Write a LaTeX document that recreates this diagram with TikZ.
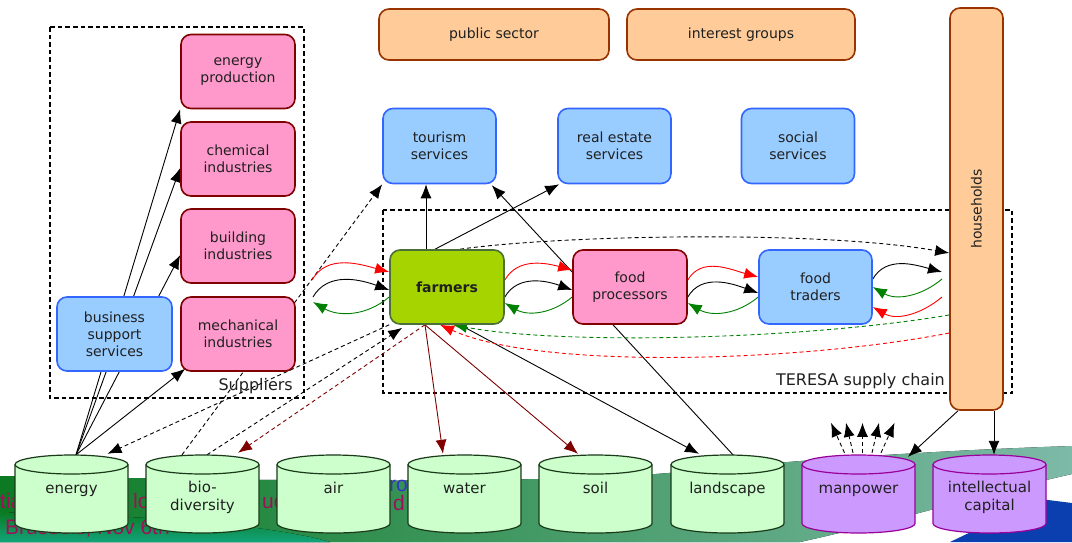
\documentclass[tikz,border=0pt]{standalone}
\usepackage{fontspec}
\setmainfont{DejaVu Sans}
\newfontfamily\slidefont{Liberation Sans}
\usetikzlibrary{arrows.meta,calc}
\pgfdeclarelayer{bg}
\pgfdeclarelayer{wires}
\pgfsetlayers{bg,wires,main}

\definecolor{pinkfill}{HTML}{FF99CC}
\definecolor{pinkline}{HTML}{800000}
\definecolor{bluefill}{HTML}{99CCFF}
\definecolor{blueline}{HTML}{3366FF}
\definecolor{orangefill}{HTML}{FFCC99}
\definecolor{orangeline}{HTML}{993300}
\definecolor{farmfill}{HTML}{A6D400}
\definecolor{farmline}{HTML}{4A7038}
\definecolor{cylgreen}{HTML}{CCFFCC}
\definecolor{cylgreenline}{HTML}{1A3A1A}
\definecolor{cylpurple}{HTML}{CC99FF}
\definecolor{cylpurpleline}{HTML}{990099}
\definecolor{darkred}{HTML}{800000}
\definecolor{flowgreen}{HTML}{008000}
\definecolor{inktext}{HTML}{202020}
\definecolor{swgreen}{HTML}{0B7A22}
\definecolor{swmid}{HTML}{0E8A3E}
\definecolor{swteal}{HTML}{7DBAA8}
\definecolor{swlow}{HTML}{12A47A}
\definecolor{slideblue}{HTML}{0B3FB0}
\definecolor{slidemagenta}{HTML}{A0105A}
\definecolor{slideviolet}{HTML}{3333CC}

% cylinder: name, centre x, fill, line colour, label
\newcommand\stockcyl[5]{%
  \node[cylspace] (#1) at (#2,-494) {};
  \draw[fill=#3, draw=#4, line width=1.2pt]
    (#2-56.5,-464.5) -- (#2-56.5,-523.5)
    arc[start angle=180, end angle=360, x radius=56.5pt, y radius=9.5pt]
    -- (#2+56.5,-464.5)
    arc[start angle=0, end angle=180, x radius=56.5pt, y radius=9.5pt] -- cycle;
  \draw[draw=#4, line width=1.2pt] (#2-56.5,-464.5)
    arc[start angle=180, end angle=360, x radius=56.5pt, y radius=9.5pt];
  \node[cyltext] (#1-label) at (#2,-480.5) {#5};
}

\begin{document}
\begin{tikzpicture}[x=1pt, y=1pt,
  box/.style={rounded corners=10pt, line width=1.6pt, minimum width=114pt,
    minimum height=74pt, align=center, inner sep=2pt, text=inktext,
    font=\fontsize{14}{17}\selectfont},
  pinkbox/.style={box, fill=pinkfill, draw=pinkline},
  bluebox/.style={box, fill=bluefill, draw=blueline},
  orangebox/.style={box, fill=orangefill, draw=orangeline, minimum height=51pt},
  farmbox/.style={box, fill=farmfill, draw=farmline, font=\fontsize{14}{17}\selectfont\bfseries},
  cylspace/.style={minimum width=113pt, minimum height=78pt, inner sep=0pt},
  cyltext/.style={anchor=north, align=center, inner sep=0pt, text=inktext,
    font=\fontsize{15}{18}\selectfont, execute at begin node=\strut},
  groupframe/.style={dashed, dash pattern=on 4.5pt off 3pt, line width=1.5pt},
  grouplabel/.style={inner sep=0pt, text=inktext, font=\fontsize{16}{19}\selectfont},
  wire/.style={line width=0.9pt, -{Latex[length=14pt,width=11pt]}},
  dwire/.style={wire, dash pattern=on 4pt off 3pt},
  slidetext/.style={inner sep=0pt, font=\slidefont\fontsize{21}{25}\selectfont, text=slidemagenta}
]
\useasboundingbox (0,0) rectangle (1072,-542);

% slide backdrop
\begin{pgfonlayer}{bg}
  \fill[white] (0,0) rectangle (1072,-542);
  \fill[left color=swgreen, middle color=swmid, right color=swteal]
    (0,-476) .. controls (250,-480) and (560,-486) .. (700,-470)
    .. controls (820,-458) and (950,-450) .. (1072,-446)
    -- (1072,-474) .. controls (1000,-490) and (900,-520) .. (800,-542)
    -- (0,-542) -- cycle;
  \fill[top color=swgreen, bottom color=swlow]
    (0,-512) .. controls (120,-515) and (260,-522) .. (330,-542) -- (0,-542) -- cycle;
  \fill[slideblue] (950,-542) -- (1040,-499) -- (1072,-503) -- (1072,-542) -- cycle;
  \node[slidetext, anchor=base west] (slideA) at (0,-508) {tial};
  \node[slidetext, anchor=base west] (slideB) at (133,-508) {lo};
  \node[slidetext, anchor=base west] (slideC) at (262,-508) {uc};
  \node[slidetext, anchor=base west] (slideD) at (393,-510) {d};
  \node[slidetext, anchor=base west, text=slideviolet] (slideE) at (389,-491) {ro};
  \node[slidetext, anchor=base west] (slideF) at (5,-534) {Brussels, Nov 6th};
\end{pgfonlayer}

% suppliers
\node[pinkbox] (energyprod) at (238,-71.5) {energy\\production};
\node[pinkbox] (chemical)   at (238,-159)  {chemical\\industries};
\node[pinkbox] (building)   at (238,-246)  {building\\industries};
\node[pinkbox] (mechanical) at (238,-334)  {mechanical\\industries};
\node[bluebox, minimum width=115pt] (business) at (114.5,-334) {business\\support\\services};

% public actors and services
\node[orangebox, minimum width=230pt] (public)   at (494,-34.5) {public sector};
\node[orangebox, minimum width=228pt] (interest) at (741,-34.5) {interest groups};
\node[orangebox, minimum width=53pt, minimum height=402pt] (households) at (976.5,-209) {};
\node[rotate=90, inner sep=0pt, text=inktext, font=\fontsize{14}{17}\selectfont]
  (households-label) at (households.center) {households};
\node[bluebox, minimum width=113pt, minimum height=75pt] (tourism)    at (439.5,-146) {tourism\\services};
\node[bluebox, minimum width=113pt, minimum height=75pt] (realestate) at (614.5,-146) {real estate\\services};
\node[bluebox, minimum width=113pt, minimum height=75pt] (social)     at (798,-146)   {social\\services};

% supply chain
\node[farmbox] (farmers) at (447,-287) {farmers};
\node[pinkbox] (processors) at (630,-287) {food\\processors};
\node[bluebox, minimum width=113pt] (traders) at (815.5,-287) {food\\traders};

% resource stocks
\stockcyl{energy}{71.5}{cylgreen}{cylgreenline}{energy}
\stockcyl{bio}{202.5}{cylgreen}{cylgreenline}{bio-\\diversity}
\stockcyl{air}{333.5}{cylgreen}{cylgreenline}{air}
\stockcyl{water}{464.5}{cylgreen}{cylgreenline}{water}
\stockcyl{soil}{595.5}{cylgreen}{cylgreenline}{soil}
\stockcyl{landscape}{727.5}{cylgreen}{cylgreenline}{landscape}
\stockcyl{manpower}{858.5}{cylpurple}{cylpurpleline}{manpower}
\stockcyl{intellectual}{989.5}{cylpurple}{cylpurpleline}{intellectual\\capital}

% free ends of the chain loops
\coordinate (supIn1) at (312,-280);
\coordinate (supIn2) at (313,-297);
\coordinate (supOut) at (313,-302);
\coordinate (hhIn)   at (942,-272);
\coordinate (hhOut1) at (942,-279);
\coordinate (hhOut2) at (942,-297);

\begin{pgfonlayer}{wires}
  % group frames
  \draw[groupframe] (50,-27) rectangle (304,-398);
  \node[grouplabel, anchor=base east] (suppliers-label) at (293,-390) {Suppliers};
  \draw[groupframe] (383,-210) rectangle (1012,-393);
  \node[grouplabel, anchor=base east] (teresa-label) at (945,-385) {TERESA supply chain};

  % energy feeding the suppliers
  \draw[wire] ([xshift=4.5]energy.north) -- (energyprod.south west);
  \draw[wire] ([xshift=4.5]energy.north) -- ([yshift=-9]chemical.west);
  \draw[wire] ([xshift=4.5]energy.north) -- ([yshift=-9]building.west);
  \draw[wire] ([xshift=4.5]energy.north) -- ([xshift=5,yshift=3]mechanical.south west);

  % dashed links between farmers and the stocks
  \draw[dwire] (farmers.south west) -- ([xshift=36,yshift=1]energy.north);
  \draw[dwire] ([xshift=-20.5]bio.north) -- (tourism.south west);
  \draw[dwire] ([xshift=4.5]bio.north) -- ([xshift=13,yshift=-3]farmers.south west);
  \draw[dwire, darkred] ([xshift=-22]farmers.south) -- ([xshift=35.5,yshift=2]bio.north);

  % farmers' outputs
  \draw[wire, darkred] ([xshift=-22]farmers.south) -- ([xshift=-21.5,yshift=1]water.north);
  \draw[wire, darkred] ([xshift=-22]farmers.south) -- ([xshift=-17.5,yshift=1]soil.north);
  \draw[wire] ([xshift=13]farmers.south) -- ([xshift=-28.5,yshift=1]landscape.north);
  \draw[line width=0.9pt] ([xshift=-17]processors.south) -- ([xshift=5.5]landscape.north);
  \draw[wire] ([xshift=-21]farmers.north) -- ([xshift=-13.5]tourism.south);
  \draw[wire] ([xshift=-12]farmers.north) -- ([xshift=2]realestate.south west);
  \draw[wire] ([yshift=15]processors.west) -- ([xshift=-5,yshift=-1]tourism.south east);

  % links with households
  \draw[dwire] ([xshift=13]farmers.north) .. controls (560,-235) and (820,-230) .. ([yshift=-44]households.west);
  \draw[dwire, flowgreen] ([yshift=-106]households.west) .. controls (800,-340) and (560,-345) .. ([xshift=6]farmers.south);
  \draw[dwire, red] ([yshift=-124]households.west) .. controls (800,-362) and (540,-370) .. ([xshift=-7]farmers.south);

  % supplier loops into farmers
  \draw[wire, red] (supIn1) to[out=60,in=165] ([yshift=15]farmers.west);
  \draw[wire] (supIn2) to[out=60,in=160] ([yshift=-3]farmers.west);
  \draw[wire, flowgreen] ([yshift=-10]farmers.west) to[out=-140,in=-30] (supOut);

  % farmers <-> processors
  \draw[wire, red] ([yshift=7]farmers.east) to[out=60,in=165] ([yshift=17]processors.west);
  \draw[wire] ([yshift=-10]farmers.east) to[out=60,in=160] ([yshift=-3]processors.west);
  \draw[wire, flowgreen] ([yshift=-10]processors.west) to[out=-140,in=-30] ([yshift=-16]farmers.east);

  % processors <-> traders
  \draw[wire, red] ([yshift=7]processors.east) to[out=60,in=165] ([yshift=10]traders.west);
  \draw[wire] ([yshift=-10]processors.east) to[out=60,in=160] ([yshift=-6]traders.west);
  \draw[wire, flowgreen] ([yshift=-10]traders.west) to[out=-140,in=-30] ([yshift=-16]processors.east);

  % traders <-> households
  \draw[wire] ([yshift=8]traders.east) to[out=60,in=165] (hhIn);
  \draw[wire, flowgreen] (hhOut1) to[out=-140,in=-30] (traders.east);
  \draw[wire, red] (hhOut2) to[out=-140,in=-30] ([yshift=-20]traders.east);

  % manpower spreading out
  \foreach \b/\t in {-14/-27.5, -5.5/-12.5, 4/4, 13.5/20.5, 22.5/36}
    \draw[dwire] ([xshift=\b,yshift=2]manpower.north) -- ([xshift=\t,yshift=32]manpower.north);

  % households to human stocks
  \draw[wire] ([xshift=-18.5]households.south) -- ([xshift=49.5,yshift=-2]manpower.north);
  \draw[wire] ([xshift=17.5]households.south) -- ([xshift=4.5]intellectual.north);
\end{pgfonlayer}
\end{tikzpicture}
\end{document}
